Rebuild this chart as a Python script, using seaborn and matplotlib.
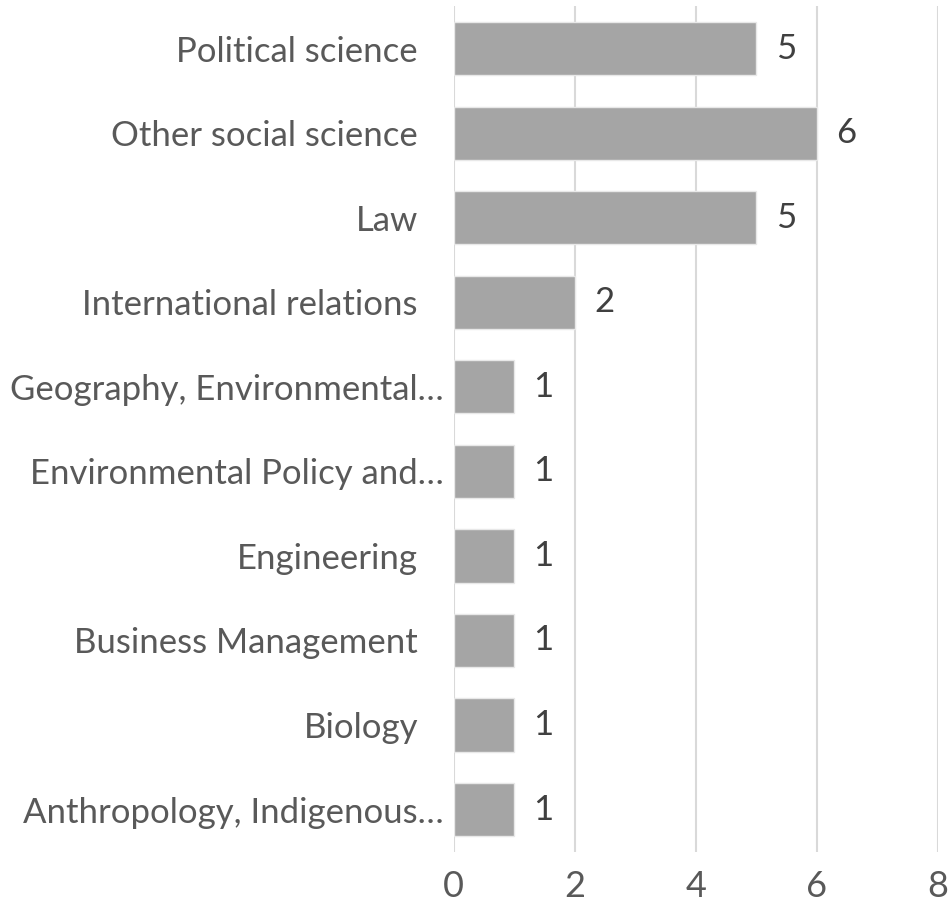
import matplotlib
matplotlib.use("Agg")
import matplotlib.pyplot as plt
import matplotlib.transforms as mtransforms
import seaborn as sns
import pandas as pd

categories = [
    "Political science",
    "Other social science",
    "Law",
    "International relations",
    "Geography, Environmental…",
    "Environmental Policy and…",
    "Engineering",
    "Business Management",
    "Biology",
    "Anthropology, Indigenous…",
]
counts = [5, 6, 5, 2, 1, 1, 1, 1, 1, 1]
x_ticks = [0, 2, 4, 6, 8]

df = pd.DataFrame({"field": categories, "count": counts})

sns.set_theme(style="white")
plt.rcParams["font.family"] = ["Lato", "DejaVu Sans"]

text_color = "#595959"
fig = plt.figure(figsize=(9.49, 9.15), dpi=100)
ax = fig.add_axes([0.478, 0.069, 0.510, 0.924])

sns.barplot(data=df, x="count", y="field", color="#A5A5A5", saturation=1,
            width=0.63, edgecolor="#E8E8E8", linewidth=1, ax=ax, zorder=3)

ax.set_xlim(0, 8)
ax.set_xticks(x_ticks)
ax.set_xlabel("")
ax.set_ylabel("")
ax.xaxis.grid(True, color="#D9D9D9", linewidth=1.5, zorder=0)
ax.yaxis.grid(False)
for s in ax.spines.values():
    s.set_visible(False)
ax.tick_params(axis="x", length=0, pad=13, labelsize=26, labelcolor=text_color)
ax.tick_params(axis="y", length=0, pad=7, labelsize=25, labelcolor=text_color)

# full-length names carry a trailing gap before the axis; truncated ones don't
shift = mtransforms.ScaledTranslation(-26 / 100, 0, fig.dpi_scale_trans)
for lbl in ax.get_yticklabels():
    if not lbl.get_text().endswith("…"):
        lbl.set_transform(lbl.get_transform() + shift)

for cont in ax.containers:
    ax.bar_label(cont, labels=[str(v) for v in counts], padding=14,
                 fontsize=25, color="#404040")

fig.savefig("out.png", dpi=100)
